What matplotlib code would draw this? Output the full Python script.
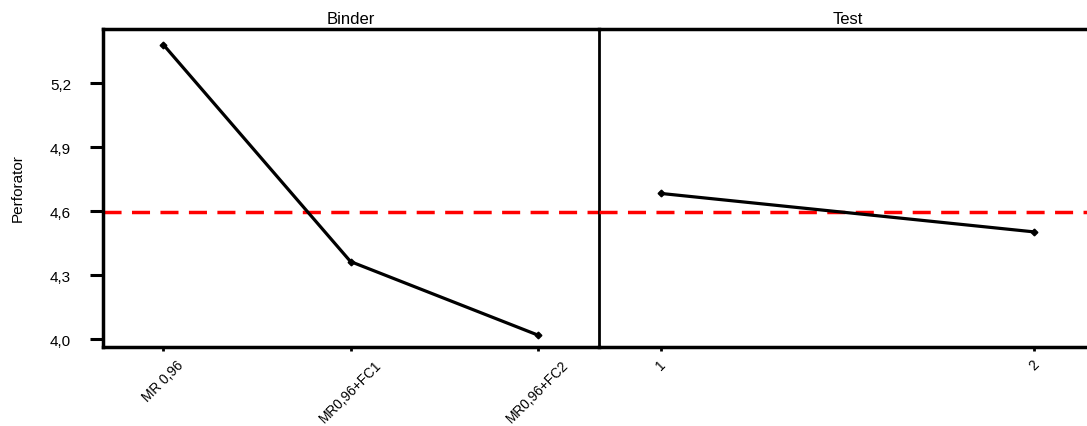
import matplotlib
matplotlib.use("Agg")
import matplotlib.pyplot as plt
from matplotlib.ticker import FixedLocator, FuncFormatter

plt.rcParams['font.family'] = ['Liberation Sans', 'DejaVu Sans']

# ---- data ----
binder_levels = ["MR 0,96", "MR0,96+FC1", "MR0,96+FC2"]
binder_means = [5.380, 4.364, 4.020]
test_levels = ["1", "2"]
test_means = [4.683, 4.503]
grand_mean = 4.594
y_ticks = [4.0, 4.3, 4.6, 4.9, 5.2]
y_label = "Perforator"
panel_titles = ["Binder", "Test"]

W, H = 1087, 427
fig = plt.figure(figsize=(W / 100, H / 100), dpi=100)

left_px, div_px, right_px = 103, 599, 1096
top_px, bot_px = 30, 348
ax1 = fig.add_axes([left_px / W, 1 - bot_px / H, (div_px - left_px) / W, (bot_px - top_px) / H])
ax2 = fig.add_axes([div_px / W, 1 - bot_px / H, (right_px - div_px) / W, (bot_px - top_px) / H], sharey=ax1)

ylim = (3.964, 5.453)
thick = 2.5
line_lw = 2.3
red_kw = dict(color='#ff0000', lw=2.5, dashes=(5.2, 3.0), zorder=1)
fmt = FuncFormatter(lambda v, p: f"{v:.1f}".replace('.', ','))
xlab_kw = dict(axis='x', direction='out', length=3.0, width=2.0, pad=4.5, labelsize=9.8, labelrotation=45)

# Binder panel
xb = list(range(len(binder_levels)))
ax1.plot(xb, binder_means, color='black', lw=line_lw, marker='D', ms=3.4, zorder=3)
ax1.axhline(grand_mean, **red_kw)
ax1.set_xlim(-0.322, 2.327)
ax1.set_ylim(*ylim)
ax1.set_xticks(xb)
ax1.set_xticklabels(binder_levels)
ax1.yaxis.set_major_locator(FixedLocator(y_ticks))
ax1.yaxis.set_major_formatter(fmt)
ax1.tick_params(axis='y', direction='out', length=9.4, width=2.2, pad=13.5, labelsize=11)
ax1.tick_params(**xlab_kw)
for s in ['left', 'bottom', 'top']:
    ax1.spines[s].set_linewidth(thick)
ax1.spines['right'].set_linewidth(2.0)
ax1.set_title(panel_titles[0], fontsize=12, pad=4)

# Test panel
xt = [1, 2]
ax2.patch.set_visible(False)
ax2.plot(xt, test_means, color='black', lw=line_lw, marker='D', ms=3.4, zorder=3)
ax2.axhline(grand_mean, **red_kw)
ax2.set_xlim(0.834, 2.166)
ax2.set_xticks(xt)
ax2.set_xticklabels(test_levels)
ax2.tick_params(axis='y', left=False, labelleft=False)
ax2.tick_params(**xlab_kw)
ax2.spines['left'].set_visible(False)
ax2.spines['right'].set_visible(False)
for s in ['bottom', 'top']:
    ax2.spines[s].set_linewidth(thick)
ax2.set_title(panel_titles[1], fontsize=12, pad=4)

for ax in (ax1, ax2):
    for s in ax.spines.values():
        s.set_zorder(4)

fig.text(18 / W, 1 - 188 / H, y_label, rotation=90, ha='center', va='center', fontsize=11)

fig.savefig("out.png", dpi=100, facecolor='white')
